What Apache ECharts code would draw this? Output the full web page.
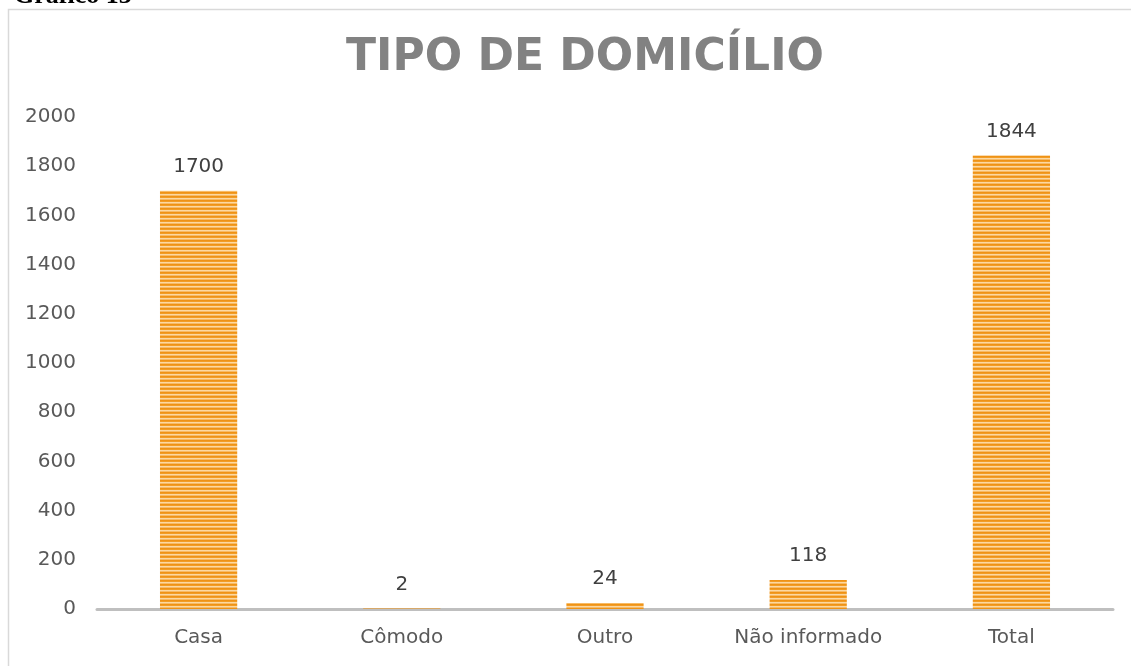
<!DOCTYPE html>
<html>
<head>
<meta charset="utf-8">
<script src="https://cdn.jsdelivr.net/npm/echarts@6/dist/echarts.min.js"></script>
<style>
html,body{margin:0;padding:0;background:#fff;}
#chart{width:1131px;height:666px;}
</style>
</head>
<body>
<div id="chart"></div>
<script>
const categories = ['Casa', 'Cômodo', 'Outro', 'Não informado', 'Total'];
const values = [1700, 2, 24, 118, 1844];
const yTicks = [0, 200, 400, 600, 800, 1000, 1200, 1400, 1600, 1800, 2000];
const chartTitle = 'TIPO DE DOMICÍLIO';
const caption = 'Gráfico 13';

// horizontal stripe pattern for the bars
const pat = document.createElement('canvas');
pat.width = 8; pat.height = 4;
const pctx = pat.getContext('2d');
const rows = ['#ef9216', '#f29d26', '#fcd8a2', '#f7bb66'];
rows.forEach((c, i) => { pctx.fillStyle = c; pctx.fillRect(0, i, 8, 1); });

const chart = echarts.init(document.getElementById('chart'), null, {renderer: 'canvas'});
const FONT = 'DejaVu Sans';
chart.setOption({
  animation: false,
  backgroundColor: '#ffffff',
  graphic: [
    {type: 'rect', shape: {x: 8.5, y: 9.5, width: 1300, height: 800},
     style: {fill: 'none', stroke: '#d9d9d9', lineWidth: 1.5}, silent: true, z: -1},
    {type: 'text', left: 14, top: -17,
     style: {text: caption, font: 'bold 26px "Liberation Serif"', fill: '#000'}}
  ],
  title: {
    text: chartTitle,
    left: 580, top: 32, textAlign: 'center',
    textStyle: {fontFamily: FONT, fontWeight: 'bold', fontSize: 44, color: '#828282'}
  },
  grid: {left: 97, right: 18, top: 117, bottom: 57},
  xAxis: {
    type: 'category',
    data: categories,
    axisLine: {lineStyle: {color: '#bfbfbf', width: 3}},
    axisTick: {show: false},
    axisLabel: {fontFamily: FONT, fontSize: 20, color: '#595959', margin: 19}
  },
  yAxis: {
    type: 'value',
    min: yTicks[0], max: yTicks[yTicks.length - 1], interval: yTicks[1] - yTicks[0],
    axisLine: {show: false},
    axisTick: {show: false},
    splitLine: {show: false},
    axisLabel: {fontFamily: FONT, fontSize: 20, color: '#595959', margin: 21,
                formatter: v => String(v)}
  },
  series: [{
    type: 'bar',
    data: values,
    barWidth: '38%',
    itemStyle: {color: {image: pat, repeat: 'repeat'}},
    label: {show: true, position: 'top', distance: 14,
            fontFamily: FONT, fontSize: 20, color: '#404040'}
  }]
});
</script>
</body>
</html>
